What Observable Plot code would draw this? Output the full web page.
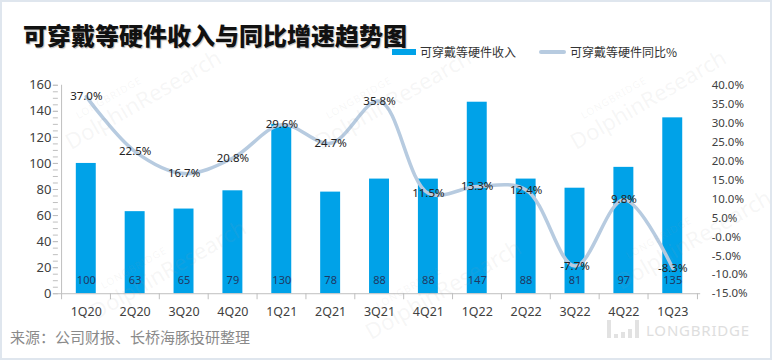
<!DOCTYPE html>
<html>
<head>
<meta charset="utf-8">
<script src="https://cdn.jsdelivr.net/npm/d3@7"></script>
<script src="https://cdn.jsdelivr.net/npm/@observablehq/plot@0.6"></script>
<style>
  html, body { margin: 0; padding: 0; background: #fff; }
  #wrap { position: relative; width: 772px; height: 360px; box-sizing: border-box; border: 2px solid #dfe6ee; overflow: hidden; background: #fff; font-family: "Noto Sans", "Noto Sans CJK SC", sans-serif; }
  #chart { position: absolute; left: -2px; top: -2px; }
  .title { position: absolute; left: 21px; top: 21px; font-family: "Noto Sans CJK SC", sans-serif; font-weight: 900; font-size: 24px; line-height: 1; color: #111; letter-spacing: 0px; text-shadow: 1px 1px 1px rgba(0,0,0,0.25); white-space: nowrap; }
  .leg { position: absolute; top: 42px; font-family: "Noto Sans CJK SC", sans-serif; font-size: 12px; color: #333; line-height: 16px; white-space: nowrap; display: flex; align-items: center; }
  .leg .sw { display: inline-block; margin-right: 4px; }
  .source { position: absolute; left: 8px; top: 325px; font-family: "Noto Sans CJK SC", sans-serif; font-size: 15px; color: #8a8a8a; line-height: 20px; white-space: nowrap; }
  .logo { position: absolute; left: 605px; top: 318px; display: flex; align-items: flex-end; color: #dedede; }
  .logo .b { display: inline-block; background: #e2e2e2; margin-right: 3px; }
  .logo span.t { font-family: "Noto Sans", sans-serif; font-size: 15px; letter-spacing: 0.8px; margin-left: 4px; line-height: 15px; }
  .wm { position: absolute; transform: rotate(-30deg); transform-origin: left bottom; color: rgba(160,160,160,0.10); font-family: "Noto Sans", sans-serif; white-space: nowrap; pointer-events: none; }
  .wm .s { font-size: 10px; letter-spacing: 1px; display: block; margin-left: 22px; }
  .wm .l { font-size: 22px; display: block; line-height: 22px; }
</style>
</head>
<body>
<div id="wrap">
  <div id="chart"></div>
  <div class="title">可穿戴等硬件收入与同比增速趋势图</div>
  <div class="leg" style="left:390px;"><span class="sw" style="width:24px;height:6px;background:#00a2e8;"></span>可穿戴等硬件收入</div>
  <div class="leg" style="left:537px;"><span class="sw" style="width:27px;height:4px;background:#b7cbe0;border-radius:2px;"></span>可穿戴等硬件同比%</div>
  <div class="source">来源：公司财报、长桥海豚投研整理</div>
  <div class="logo">
    <span class="b" style="width:4px;height:18px;"></span>
    <span class="b" style="width:4px;height:4px;"></span>
    <span class="b" style="width:4px;height:6px;"></span>
    <span class="b" style="width:4px;height:9px;"></span>
    <span class="b" style="width:4px;height:18px;"></span>
    <span class="t">LONGBRIDGE</span>
  </div>
</div>
<script>
// ---- data ----
const quarters = ["1Q20","2Q20","3Q20","4Q20","1Q21","2Q21","3Q21","4Q21","1Q22","2Q22","3Q22","4Q22","1Q23"];
const revenue = [100, 63, 65, 79, 130, 78, 88, 88, 147, 88, 81, 97, 135];
const yoyPct = [37.0, 22.5, 16.7, 20.8, 29.6, 24.7, 35.8, 11.5, 13.3, 12.4, -7.7, 9.8, -8.3];
const leftTicks = [0, 20, 40, 60, 80, 100, 120, 140, 160];
const leftMinorTicks = d3.range(0, 161, 5);
const rightTicks = [-15, -10, -5, 0, 5, 10, 15, 20, 25, 30, 35, 40];

// ---- layout ----
const W = 772, H = 360;
const mL = 58, mR = 70, mT = 85, mB = 66;
const step = (W - mL - mR) / quarters.length;

const yMax = leftTicks[leftTicks.length - 1];
const pMin = rightTicks[0], pMax = rightTicks[rightTicks.length - 1];
const pctToY = p => (p - pMin) / (pMax - pMin) * yMax;

const rows = quarters.map((q, i) => ({q, rev: revenue[i], pct: yoyPct[i], yp: pctToY(yoyPct[i])}));

const axisColor = "#bfbfbf";
const tickLen = yMax * 6 / (H - mT - mB);

const chart = Plot.plot({
  width: W, height: H,
  marginLeft: mL, marginRight: mR, marginTop: mT, marginBottom: mB,
  style: {fontFamily: '"Noto Sans", "Noto Sans CJK SC", sans-serif', background: "transparent", color: "#404040"},
  x: {domain: quarters, paddingInner: 0.6, paddingOuter: 0.3, axis: null, label: null},
  y: {domain: [0, yMax], axis: null, label: null},
  marks: [
    Plot.barY(rows, {x: "q", y: "rev", fill: "#00a2e8"}),
    Plot.ruleY([0], {stroke: axisColor}),
    Plot.ruleX([quarters[0]], {y1: 0, y2: yMax, dx: -step / 2, stroke: axisColor}),
    Plot.ruleX(quarters, {x: d => d, y1: 0, y2: -tickLen, dx: -step / 2, stroke: axisColor}),
    Plot.ruleX([quarters[quarters.length - 1]], {x: d => d, y1: 0, y2: -tickLen, dx: step / 2, stroke: axisColor}),
    Plot.axisY({anchor: "left", ticks: leftMinorTicks, tickSize: 5, tickFormat: () => "", stroke: axisColor, label: null}),
    Plot.axisY({anchor: "left", ticks: leftTicks, tickSize: 5, tickPadding: 2, fontSize: 13, stroke: axisColor, fill: "#404040", label: null}),
    Plot.axisY({anchor: "right", ticks: rightTicks.map(pctToY), tickSize: 0, tickPadding: 11, fontSize: 11.5, fill: "#404040", label: null,
      tickFormat: v => (v / yMax * (pMax - pMin) + pMin).toFixed(1) + "%"}),
    Plot.axisX({tickSize: 0, tickPadding: 13, fontSize: 12.5, fill: "#404040", label: null}),
    Plot.line(rows, {x: "q", y: "yp", curve: "catmull-rom", stroke: "#b7cbe0", strokeWidth: 3.5, strokeLinecap: "round"}),
    Plot.text(rows, {x: "q", y: 0, text: d => String(d.rev), dy: -13, fontSize: 11, fill: "#1f3864"}),
    Plot.text(rows, {x: "q", y: "yp", text: d => d.pct.toFixed(1) + "%", fontSize: 11.5, fill: "#222"})
  ]
});
document.getElementById("chart").appendChild(chart);

// faint watermarks
const wrap = document.getElementById("wrap");
const wmPos = [[70, 150], [320, 150], [575, 150], [95, 320], [370, 340], [620, 290]];
wmPos.forEach(([x, y]) => {
  const d = document.createElement("div");
  d.className = "wm";
  d.style.left = x + "px";
  d.style.top = (y - 36) + "px";
  d.innerHTML = '<span class="s">LONGBRIDGE</span><span class="l">DolphinResearch</span>';
  wrap.appendChild(d);
});
</script>
</body>
</html>
